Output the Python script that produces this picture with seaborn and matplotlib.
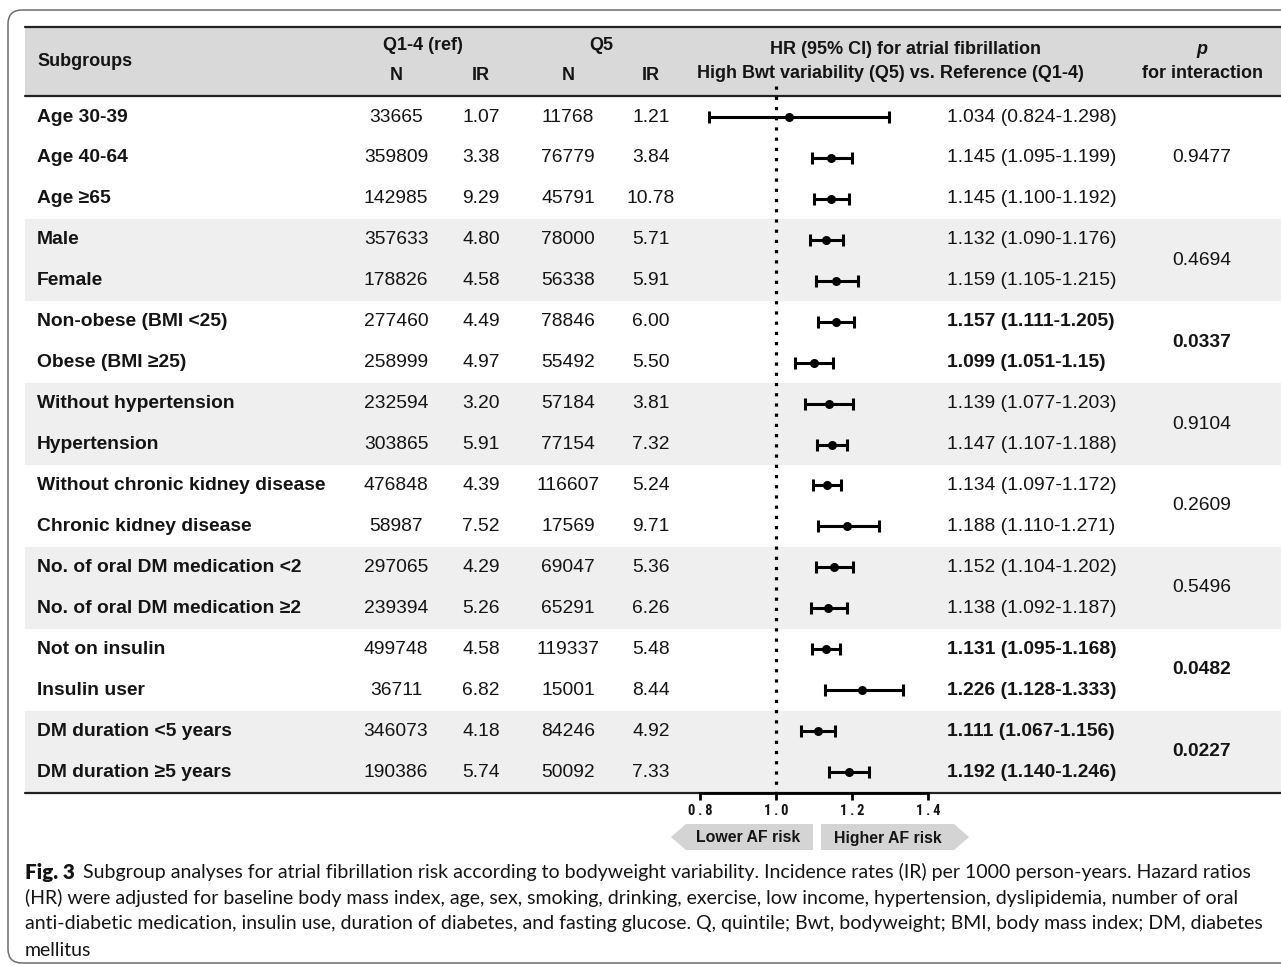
import matplotlib
matplotlib.use("Agg")
import matplotlib.pyplot as plt
from matplotlib.patches import FancyBboxPatch, Polygon, Rectangle
import seaborn as sns
import numpy as np
import pandas as pd

# ---- data -------------------------------------------------------------
subgroups = ["Age 30-39", "Age 40-64", "Age \u226565", "Male", "Female",
             "Non-obese (BMI <25)", "Obese (BMI \u226525)",
             "Without hypertension", "Hypertension",
             "Without chronic kidney disease", "Chronic kidney disease",
             "No. of oral DM medication <2", "No. of oral DM medication \u22652",
             "Not on insulin", "Insulin user",
             "DM duration <5 years", "DM duration \u22655 years"]
ref_n = [33665, 359809, 142985, 357633, 178826, 277460, 258999, 232594, 303865,
         476848, 58987, 297065, 239394, 499748, 36711, 346073, 190386]
ref_ir = [1.07, 3.38, 9.29, 4.80, 4.58, 4.49, 4.97, 3.20, 5.91, 4.39, 7.52,
          4.29, 5.26, 4.58, 6.82, 4.18, 5.74]
q5_n = [11768, 76779, 45791, 78000, 56338, 78846, 55492, 57184, 77154, 116607,
        17569, 69047, 65291, 119337, 15001, 84246, 50092]
q5_ir = [1.21, 3.84, 10.78, 5.71, 5.91, 6.00, 5.50, 3.81, 7.32, 5.24, 9.71,
         5.36, 6.26, 5.48, 8.44, 4.92, 7.33]
hr_est = ["1.034", "1.145", "1.145", "1.132", "1.159", "1.157", "1.099", "1.139",
          "1.147", "1.134", "1.188", "1.152", "1.138", "1.131", "1.226", "1.111", "1.192"]
hr_low = ["0.824", "1.095", "1.100", "1.090", "1.105", "1.111", "1.051", "1.077",
          "1.107", "1.097", "1.110", "1.104", "1.092", "1.095", "1.128", "1.067", "1.140"]
hr_high = ["1.298", "1.199", "1.192", "1.176", "1.215", "1.205", "1.15", "1.203",
           "1.188", "1.172", "1.271", "1.202", "1.187", "1.168", "1.333", "1.156", "1.246"]
group_sizes = [3, 2, 2, 2, 2, 2, 2, 2]
p_interaction = ["0.9477", "0.4694", "0.0337", "0.9104", "0.2609", "0.5496", "0.0482", "0.0227"]
x_ticks = [0.8, 1.0, 1.2, 1.4]

caption_lines = [
    "Subgroup analyses for atrial fibrillation risk according to bodyweight variability. Incidence rates (IR) per 1000 person-years. Hazard ratios",
    "(HR) were adjusted for baseline body mass index, age, sex, smoking, drinking, exercise, low income, hypertension, dyslipidemia, number of oral",
    "anti-diabetic medication, insulin use, duration of diabetes, and fasting glucose. Q, quintile; Bwt, bodyweight; BMI, body mass index; DM, diabetes",
    "mellitus",
]

df = pd.DataFrame({
    "subgroup": subgroups, "ref_n": ref_n, "ref_ir": ref_ir,
    "q5_n": q5_n, "q5_ir": q5_ir,
    "hr_txt": hr_est, "lo_txt": hr_low, "hi_txt": hr_high,
})
df["hr"] = df["hr_txt"].astype(float)
df["lo"] = df["lo_txt"].astype(float)
df["hi"] = df["hi_txt"].astype(float)
df["group"] = np.repeat(np.arange(len(group_sizes)), group_sizes)
p_sig = [float(p) < 0.05 for p in p_interaction]
df["bold"] = [p_sig[g] for g in df["group"]]

# ---- layout (pixel units) --------------------------------------------
W, H = 1281, 966
ROW0, ROWH = 117, 40.94
df["y"] = ROW0 + ROWH * np.arange(len(df))
TABLE_L = 25
HEAD_TOP, HEAD_BOT, TABLE_BOT = 27, 96, 793
COL_LABEL, COL_RN, COL_RIR, COL_QN, COL_QIR = 37, 396, 481, 568, 651
COL_HR, COL_P = 947, 1202
X_ONE, PX_PER_UNIT = 776, 380.0

sns.set_theme(style="white")
plt.rcParams["font.family"] = ["Liberation Sans", "DejaVu Sans"]
FS_HEAD = 13.0
FS = 13.9
TXT = "#141414"

fig = plt.figure(figsize=(W / 100, H / 100), dpi=100)
bg = fig.add_axes([0, 0, 1, 1])
bg.set_xlim(0, W)
bg.set_ylim(H, 0)
bg.axis("off")

# outer rounded frame
bg.add_patch(FancyBboxPatch((8, 10), 1320, 953,
                            boxstyle="round,pad=0,rounding_size=14",
                            facecolor="none", edgecolor="#6e6e6e", lw=1.1))

# header band and rules
bg.add_patch(Rectangle((TABLE_L, HEAD_TOP), W - TABLE_L, HEAD_BOT - HEAD_TOP,
                       facecolor="#d9d9d9", edgecolor="none"))
bg.plot([TABLE_L, W], [HEAD_TOP, HEAD_TOP], color="#222222", lw=1.6)
bg.plot([TABLE_L, W], [HEAD_BOT, HEAD_BOT], color="#222222", lw=1.6)
bg.plot([TABLE_L, W], [TABLE_BOT, TABLE_BOT], color="#222222", lw=1.6)

# alternating group bands
start = 0
for g, n in enumerate(group_sizes):
    if g % 2 == 1:
        top = ROW0 + ROWH * start - ROWH / 2
        bg.add_patch(Rectangle((TABLE_L, top), W - TABLE_L, ROWH * n,
                               facecolor="#efefef", edgecolor="none"))
    start += n

# header text
hb = dict(fontsize=FS_HEAD, fontweight="bold", color=TXT, va="center")
bg.text(COL_LABEL, 62, "Subgroups", ha="left", **hb)
bg.text(423, 46, "Q1-4 (ref)", ha="center", **hb)
bg.text(601, 46, "Q5", ha="center", **hb)
for x, t in [(COL_RN, "N"), (COL_RIR, "IR"), (COL_QN, "N"), (COL_QIR, "IR")]:
    bg.text(x, 75, t, ha="center", **hb)
bg.text(905, 50, "HR (95% CI) for atrial fibrillation", ha="center", **hb)
bg.text(890, 74, "High Bwt variability (Q5) vs. Reference (Q1-4)", ha="center", **hb)
bg.text(COL_P, 50, "p", ha="center", style="italic", **hb)
bg.text(COL_P, 74, "for interaction", ha="center", **hb)

# table body
for _, r in df.iterrows():
    y = r["y"]
    bg.text(COL_LABEL, y, r["subgroup"], ha="left", va="center", fontsize=FS,
            fontweight="bold", color=TXT)
    bg.text(COL_RN, y, f"{r['ref_n']}", ha="center", va="center", fontsize=FS, color=TXT)
    bg.text(COL_RIR, y, f"{r['ref_ir']:.2f}", ha="center", va="center", fontsize=FS, color=TXT)
    bg.text(COL_QN, y, f"{r['q5_n']}", ha="center", va="center", fontsize=FS, color=TXT)
    bg.text(COL_QIR, y, f"{r['q5_ir']:.2f}", ha="center", va="center", fontsize=FS, color=TXT)
    bg.text(COL_HR, y, f"{r['hr_txt']} ({r['lo_txt']}-{r['hi_txt']})", ha="left",
            va="center", fontsize=FS, color=TXT,
            fontweight="bold" if r["bold"] else "normal")

start = 0
for g, n in enumerate(group_sizes):
    yc = ROW0 + ROWH * (start + (n - 1) / 2)
    bg.text(COL_P, yc, p_interaction[g], ha="center", va="center", fontsize=FS,
            color=TXT, fontweight="bold" if p_sig[g] else "normal")
    start += n

# ---- forest plot -------------------------------------------------------
fax = fig.add_axes([0, 0, 1, 1])
fax.patch.set_visible(False)
fax.set_xlim(1 - X_ONE / PX_PER_UNIT, 1 + (W - X_ONE) / PX_PER_UNIT)
fax.set_ylim(H, 0)

fax.vlines(1.0, 86, TABLE_BOT, colors="black", lw=2.3, linestyles=(0, (1, 2.2)))
fax.errorbar(df["hr"], df["y"], xerr=[df["hr"] - df["lo"], df["hi"] - df["hr"]],
             fmt="none", ecolor="black", elinewidth=2.2, capsize=4, capthick=2.2)
sns.scatterplot(data=df, x="hr", y="y", ax=fax, color="black", s=42,
                edgecolor="black", linewidth=0, zorder=5, legend=False)

for side in ["left", "right", "top"]:
    fax.spines[side].set_visible(False)
fax.spines["bottom"].set_position(("data", TABLE_BOT))
fax.spines["bottom"].set_bounds(x_ticks[0], x_ticks[-1])
fax.spines["bottom"].set_linewidth(2.0)
fax.spines["bottom"].set_color("black")
fax.set_xticks(x_ticks)
# narrow, letter-spaced tick labels
fax.set_xticklabels(["\u2009".join(f"{t:.1f}") for t in x_ticks],
                    family=["Roboto Condensed", "DejaVu Sans"],
                    fontweight="bold", fontsize=10.5, color=TXT)
fax.tick_params(axis="x", direction="out", length=5, width=2, color="black",
                pad=3, bottom=True)
fax.set_yticks([])
fax.set_xlabel("")
fax.set_ylabel("")

# risk direction arrows
bg.add_patch(Polygon([(671, 837), (686, 824), (813, 824), (813, 850), (686, 850)],
                     closed=True, facecolor="#d4d4d4", edgecolor="none"))
bg.add_patch(Polygon([(821, 824), (954, 824), (969, 837), (954, 850), (821, 850)],
                     closed=True, facecolor="#d4d4d4", edgecolor="none"))
bg.text(748, 838, "Lower AF risk", ha="center", va="center", fontsize=11.4,
        fontweight="bold", color=TXT)
bg.text(888, 838, "Higher AF risk", ha="center", va="center", fontsize=11.4,
        fontweight="bold", color=TXT)

# ---- caption -------------------------------------------------------------
CAP_FONT = ["Lato", "DejaVu Sans"]
CAP_L, CAP_R = 25, 1262
cap_y = [872, 898, 924, 950]
cap_kw = dict(ha="left", va="center", family=CAP_FONT, color=TXT)

# size the caption so its widest line spans the caption block
renderer = fig.canvas.get_renderer()
probe = bg.text(CAP_L, cap_y[2], caption_lines[2], fontsize=13, **cap_kw)
probe_w = probe.get_window_extent(renderer).width
probe.remove()
CAP_FS = 13 * (CAP_R - CAP_L) / probe_w

fig_lbl = bg.text(CAP_L, cap_y[0], "Fig. 3", fontweight="heavy",
                  fontsize=CAP_FS * 1.05, **cap_kw)
bg.annotate(caption_lines[0], xy=(1, 0.5), xycoords=fig_lbl, xytext=(6, 0),
            textcoords="offset points", fontsize=CAP_FS, **cap_kw)
for y, line in zip(cap_y[1:], caption_lines[1:]):
    bg.text(CAP_L, y, line, fontsize=CAP_FS, **cap_kw)

fig.savefig("out.png", dpi=100)
